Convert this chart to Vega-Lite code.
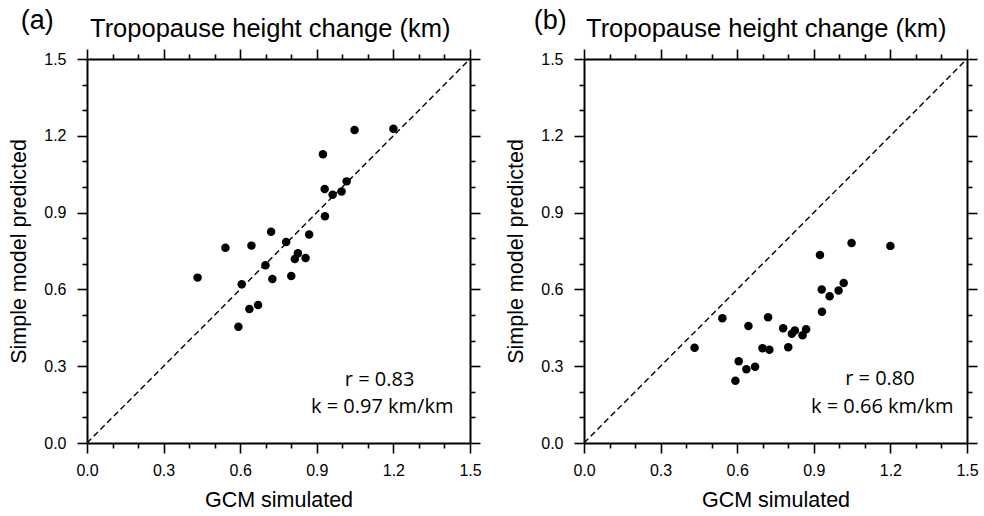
{
  "$schema": "https://vega.github.io/schema/vega-lite/v6.json",
  "background": "white",
  "padding": {"left": 8, "top": 6, "right": 5, "bottom": 5},
  "datasets": {
    "panelA": [
      {"gcm": 0.433, "simple": 0.646},
      {"gcm": 0.542, "simple": 0.763},
      {"gcm": 0.644, "simple": 0.771},
      {"gcm": 0.721, "simple": 0.825},
      {"gcm": 0.780, "simple": 0.785},
      {"gcm": 0.870, "simple": 0.814},
      {"gcm": 0.826, "simple": 0.741},
      {"gcm": 0.814, "simple": 0.719},
      {"gcm": 0.856, "simple": 0.723},
      {"gcm": 0.699, "simple": 0.694},
      {"gcm": 0.726, "simple": 0.641},
      {"gcm": 0.800, "simple": 0.652},
      {"gcm": 0.606, "simple": 0.620},
      {"gcm": 0.636, "simple": 0.523},
      {"gcm": 0.670, "simple": 0.539},
      {"gcm": 0.593, "simple": 0.454},
      {"gcm": 0.932, "simple": 0.886},
      {"gcm": 0.931, "simple": 0.992},
      {"gcm": 0.962, "simple": 0.970},
      {"gcm": 0.997, "simple": 0.982},
      {"gcm": 1.017, "simple": 1.022},
      {"gcm": 0.924, "simple": 1.128},
      {"gcm": 1.048, "simple": 1.223},
      {"gcm": 1.200, "simple": 1.228}
    ],
    "panelB": [
      {"gcm": 0.433, "simple": 0.372},
      {"gcm": 0.542, "simple": 0.487},
      {"gcm": 0.644, "simple": 0.457},
      {"gcm": 0.721, "simple": 0.491},
      {"gcm": 0.780, "simple": 0.448},
      {"gcm": 0.826, "simple": 0.439},
      {"gcm": 0.814, "simple": 0.427},
      {"gcm": 0.870, "simple": 0.444},
      {"gcm": 0.856, "simple": 0.421},
      {"gcm": 0.699, "simple": 0.370},
      {"gcm": 0.726, "simple": 0.364},
      {"gcm": 0.800, "simple": 0.374},
      {"gcm": 0.606, "simple": 0.319},
      {"gcm": 0.636, "simple": 0.288},
      {"gcm": 0.670, "simple": 0.298},
      {"gcm": 0.593, "simple": 0.243},
      {"gcm": 0.932, "simple": 0.513},
      {"gcm": 0.931, "simple": 0.600},
      {"gcm": 0.962, "simple": 0.573},
      {"gcm": 0.997, "simple": 0.596},
      {"gcm": 1.017, "simple": 0.625},
      {"gcm": 0.924, "simple": 0.734},
      {"gcm": 1.048, "simple": 0.781},
      {"gcm": 1.200, "simple": 0.770}
    ]
  },
  "hconcat": [
    {
      "title": {"text": "(a)", "anchor": "start", "frame": "bounds", "fontSize": 27, "dx": 12, "dy": 22},
      "vconcat": [
        {
          "width": 383,
          "height": 384,
          "title": {"text": "Tropopause height change (km)", "anchor": "start", "frame": "group", "fontSize": 25.5, "dx": 3, "offset": 6},
          "resolve": {"axis": {"x": "independent", "y": "independent"}},
          "layer": [
            {
              "data": {"name": "panelA"},
              "mark": {"type": "circle", "color": "black", "opacity": 1, "size": 72},
              "encoding": {
                "x": {"field": "gcm", "type": "quantitative", "scale": {"domain": [0, 1.5], "nice": false},
                      "axis": {"orient": "bottom", "title": "GCM simulated", "values": [0, 0.3, 0.6, 0.9, 1.2, 1.5], "format": ".1f", "tickSize": 10, "labelPadding": 9, "titlePadding": 11}},
                "y": {"field": "simple", "type": "quantitative", "scale": {"domain": [0, 1.5], "nice": false},
                      "axis": {"orient": "left", "title": "Simple model predicted", "values": [0, 0.3, 0.6, 0.9, 1.2, 1.5], "format": ".1f", "tickSize": 10, "labelPadding": 11, "titlePadding": 13}}
              }
            },
            {
              "data": {"values": [{}]},
              "mark": {"type": "rule", "color": "black", "strokeWidth": 1.4, "strokeDash": [6, 3.5]},
              "encoding": {
                "x": {"datum": 0, "type": "quantitative", "scale": {"domain": [0, 1.5], "nice": false},
                      "axis": {"orient": "bottom", "title": null, "labels": false, "domain": false, "tickSize": 5, "values": [0.1, 0.2, 0.4, 0.5, 0.7, 0.8, 1.0, 1.1, 1.3, 1.4]}},
                "y": {"datum": 0, "type": "quantitative", "scale": {"domain": [0, 1.5], "nice": false},
                      "axis": {"orient": "left", "title": null, "labels": false, "domain": false, "tickSize": 5, "values": [0.1, 0.2, 0.4, 0.5, 0.7, 0.8, 1.0, 1.1, 1.3, 1.4]}},
                "x2": {"datum": 1.5},
                "y2": {"datum": 1.5}
              }
            },
            {
              "data": {"values": [{}]},
              "mark": {"type": "text", "font": "Open Sans", "fontSize": 20, "color": "black", "align": "center", "baseline": "alphabetic"},
              "encoding": {
                "x": {"datum": 1.146, "type": "quantitative", "scale": {"domain": [0, 1.5], "nice": false},
                      "axis": {"orient": "top", "title": null, "labels": false, "tickSize": 10, "values": [0, 0.3, 0.6, 0.9, 1.2, 1.5]}},
                "y": {"datum": 0.223, "type": "quantitative", "scale": {"domain": [0, 1.5], "nice": false},
                      "axis": {"orient": "right", "title": null, "labels": false, "tickSize": 10, "values": [0, 0.3, 0.6, 0.9, 1.2, 1.5]}},
                "text": {"value": "r = 0.83"}
              }
            },
            {
              "data": {"values": [{}]},
              "mark": {"type": "text", "font": "Open Sans", "fontSize": 20, "color": "black", "align": "center", "baseline": "alphabetic"},
              "encoding": {
                "x": {"datum": 1.156, "type": "quantitative", "scale": {"domain": [0, 1.5], "nice": false},
                      "axis": {"orient": "top", "title": null, "labels": false, "domain": false, "tickSize": 5, "values": [0.1, 0.2, 0.4, 0.5, 0.7, 0.8, 1.0, 1.1, 1.3, 1.4]}},
                "y": {"datum": 0.116, "type": "quantitative", "scale": {"domain": [0, 1.5], "nice": false},
                      "axis": {"orient": "right", "title": null, "labels": false, "domain": false, "tickSize": 5, "values": [0.1, 0.2, 0.4, 0.5, 0.7, 0.8, 1.0, 1.1, 1.3, 1.4]}},
                "text": {"value": "k = 0.97 km/km"}
              }
            }
          ]
        }
      ]
    },
    {
      "title": {"text": "(b)", "anchor": "start", "frame": "bounds", "fontSize": 27, "dx": 28, "dy": 22},
      "vconcat": [
        {
          "width": 383,
          "height": 384,
          "title": {"text": "Tropopause height change (km)", "anchor": "start", "frame": "group", "fontSize": 25.5, "dx": 2, "offset": 6},
          "resolve": {"axis": {"x": "independent", "y": "independent"}},
          "layer": [
            {
              "data": {"name": "panelB"},
              "mark": {"type": "circle", "color": "black", "opacity": 1, "size": 72},
              "encoding": {
                "x": {"field": "gcm", "type": "quantitative", "scale": {"domain": [0, 1.5], "nice": false},
                      "axis": {"orient": "bottom", "title": "GCM simulated", "values": [0, 0.3, 0.6, 0.9, 1.2, 1.5], "format": ".1f", "tickSize": 10, "labelPadding": 9, "titlePadding": 11}},
                "y": {"field": "simple", "type": "quantitative", "scale": {"domain": [0, 1.5], "nice": false},
                      "axis": {"orient": "left", "title": "Simple model predicted", "values": [0, 0.3, 0.6, 0.9, 1.2, 1.5], "format": ".1f", "tickSize": 10, "labelPadding": 11, "titlePadding": 13}}
              }
            },
            {
              "data": {"values": [{}]},
              "mark": {"type": "rule", "color": "black", "strokeWidth": 1.4, "strokeDash": [6, 3.5]},
              "encoding": {
                "x": {"datum": 0, "type": "quantitative", "scale": {"domain": [0, 1.5], "nice": false},
                      "axis": {"orient": "bottom", "title": null, "labels": false, "domain": false, "tickSize": 5, "values": [0.1, 0.2, 0.4, 0.5, 0.7, 0.8, 1.0, 1.1, 1.3, 1.4]}},
                "y": {"datum": 0, "type": "quantitative", "scale": {"domain": [0, 1.5], "nice": false},
                      "axis": {"orient": "left", "title": null, "labels": false, "domain": false, "tickSize": 5, "values": [0.1, 0.2, 0.4, 0.5, 0.7, 0.8, 1.0, 1.1, 1.3, 1.4]}},
                "x2": {"datum": 1.5},
                "y2": {"datum": 1.5}
              }
            },
            {
              "data": {"values": [{}]},
              "mark": {"type": "text", "font": "Open Sans", "fontSize": 20, "color": "black", "align": "center", "baseline": "alphabetic"},
              "encoding": {
                "x": {"datum": 1.159, "type": "quantitative", "scale": {"domain": [0, 1.5], "nice": false},
                      "axis": {"orient": "top", "title": null, "labels": false, "tickSize": 10, "values": [0, 0.3, 0.6, 0.9, 1.2, 1.5]}},
                "y": {"datum": 0.225, "type": "quantitative", "scale": {"domain": [0, 1.5], "nice": false},
                      "axis": {"orient": "right", "title": null, "labels": false, "tickSize": 10, "values": [0, 0.3, 0.6, 0.9, 1.2, 1.5]}},
                "text": {"value": "r = 0.80"}
              }
            },
            {
              "data": {"values": [{}]},
              "mark": {"type": "text", "font": "Open Sans", "fontSize": 20, "color": "black", "align": "center", "baseline": "alphabetic"},
              "encoding": {
                "x": {"datum": 1.168, "type": "quantitative", "scale": {"domain": [0, 1.5], "nice": false},
                      "axis": {"orient": "top", "title": null, "labels": false, "domain": false, "tickSize": 5, "values": [0.1, 0.2, 0.4, 0.5, 0.7, 0.8, 1.0, 1.1, 1.3, 1.4]}},
                "y": {"datum": 0.116, "type": "quantitative", "scale": {"domain": [0, 1.5], "nice": false},
                      "axis": {"orient": "right", "title": null, "labels": false, "domain": false, "tickSize": 5, "values": [0.1, 0.2, 0.4, 0.5, 0.7, 0.8, 1.0, 1.1, 1.3, 1.4]}},
                "text": {"value": "k = 0.66 km/km"}
              }
            }
          ]
        }
      ]
    }
  ],
  "spacing": 23,
  "config": {
    "font": "Liberation Sans",
    "view": {"stroke": null},
    "axis": {
      "grid": false,
      "domainColor": "black",
      "domainWidth": 2,
      "tickColor": "black",
      "tickWidth": 1.6,
      "labelFont": "Liberation Sans",
      "labelFontSize": 16,
      "labelColor": "black",
      "labelFlush": false,
      "labelOverlap": false,
      "titleFont": "Liberation Sans",
      "titleFontSize": 21.5,
      "titleFontWeight": "normal",
      "titleColor": "black"
    },
    "title": {"font": "Liberation Sans", "fontWeight": "normal", "color": "black"}
  }
}
